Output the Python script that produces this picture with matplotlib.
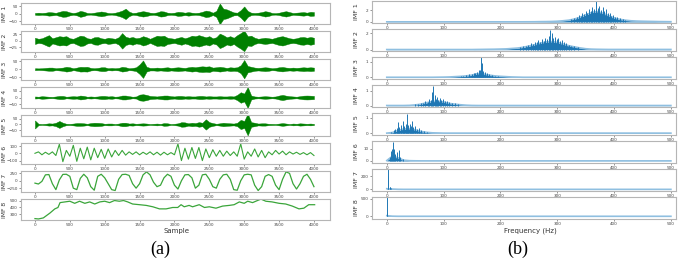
import numpy as np
import matplotlib.pyplot as plt

# ---------------- data ----------------
# (a) time domain, envelope / value every 50 samples from 0 to 4000
samples = np.arange(0, 4001, 50)

imf1_env = [6, 8, 6, 8, 12, 10, 7, 14, 20, 18,
            10, 6, 10, 20, 15, 6, 5, 8, 12, 16,
            12, 6, 5, 8, 14, 22, 35, 15, 6, 8,
            14, 18, 14, 8, 6, 10, 18, 16, 8, 6,
            8, 14, 12, 8, 12, 8, 6, 8, 14, 22,
            18, 8, 20, 70, 35, 30, 20, 10, 8, 25,
            50, 20, 8, 6, 8, 12, 18, 14, 6, 5,
            8, 14, 18, 12, 6, 8, 10, 12, 8, 14, 12]
imf2_env = [12, 8, 10, 16, 22, 10, 14, 18, 16, 18,
            10, 8, 14, 20, 18, 10, 8, 14, 15, 10,
            8, 12, 10, 8, 14, 30, 16, 12, 15, 10,
            12, 18, 14, 8, 14, 20, 18, 20, 12, 10,
            8, 12, 15, 10, 14, 20, 18, 22, 18, 14,
            18, 10, 14, 28, 22, 14, 18, 12, 22, 30,
            40, 18, 20, 12, 8, 10, 12, 10, 8, 12,
            16, 18, 14, 10, 8, 10, 14, 15, 12, 15, 12]
imf3_env = [6, 5, 6, 8, 10, 10, 6, 8, 10, 15,
            12, 6, 10, 15, 14, 15, 8, 6, 8, 12,
            12, 6, 8, 6, 8, 15, 12, 6, 8, 12,
            30, 55, 15, 8, 8, 10, 8, 10, 12, 8,
            10, 12, 10, 8, 12, 15, 12, 16, 18, 16,
            18, 10, 12, 15, 12, 8, 12, 10, 12, 25,
            58, 20, 15, 10, 8, 10, 12, 10, 6, 8,
            12, 14, 10, 8, 10, 8, 10, 12, 10, 12, 10]
imf4_env = [8, 6, 10, 8, 6, 5, 8, 12, 12, 6,
            8, 10, 8, 15, 12, 6, 8, 6, 8, 12,
            12, 8, 10, 6, 8, 15, 15, 10, 6, 8,
            22, 25, 20, 12, 10, 8, 12, 15, 15, 10,
            8, 12, 12, 8, 10, 8, 8, 12, 12, 8,
            10, 8, 8, 10, 8, 8, 10, 8, 20, 40,
            30, 80, 15, 8, 6, 8, 10, 8, 6, 8,
            15, 20, 14, 10, 8, 6, 10, 14, 15, 14, 12]
imf5_env = [35, 6, 4, 6, 10, 8, 15, 30, 15, 6,
            5, 8, 12, 12, 10, 6, 12, 15, 14, 12,
            6, 8, 8, 4, 8, 15, 15, 8, 10, 6,
            8, 10, 8, 4, 6, 8, 5, 12, 10, 4,
            6, 10, 20, 18, 10, 15, 12, 20, 15, 45,
            20, 12, 6, 10, 15, 12, 10, 8, 15, 40,
            30, 95, 20, 15, 8, 10, 10, 6, 5, 4,
            8, 12, 8, 4, 8, 6, 10, 8, 6, 8, 5]
imf6 = [0, 20, -20, 15, -15, 20, -30, 125, -115, 40,
        -40, 110, -110, 70, -75, 85, -90, 70, -60, 55,
        -70, 60, -50, 40, -30, 40, -25, 20, -15, 20,
        -20, 15, -15, 20, -20, 15, -25, 15, -20, 10,
        -20, 130, -100, 70, -80, 80, -70, 80, -100, 60,
        -60, 50, -40, 40, -40, 30, -30, 20, -40, 130,
        -80, 20, -40, 60, -50, 40, -60, 20, -20, 40,
        -10, 30, -20, 20, -10, 15, -15, 10, -20, 10, -30]
imf7 = [-80, -110, -20, 200, 210, -100, -300, 30, 215, 220,
        150, -250, -300, 80, 220, 100, -200, -320, 150, 220,
        100, -100, -300, -330, 50, 210, 220, 180, -100, -250,
        -100, 200, 300, 200, -50, -200, -150, 100, 220, 150,
        -150, -280, 0, 200, 210, 100, -250, -150, 200, 220,
        50, -200, -250, 50, 200, 220, 50, -300, -320, 0,
        200, 220, 200, -150, -330, -200, 150, 210, 150, -150,
        -300, 50, 300, 250, -100, -280, -100, 150, 220, 50, -200]
imf8_x = [0, 50, 120, 215, 285, 330, 360, 430, 500, 570,
          640, 715, 785, 857, 930, 1000, 1070, 1140, 1210, 1270,
          1330, 1400, 1500, 1595, 1690, 1785, 1880, 1975, 2047, 2095,
          2140, 2210, 2260, 2355, 2430, 2500, 2595, 2690, 2785, 2855,
          2930, 3000, 3050, 3120, 3190, 3240, 3310, 3400, 3500, 3595,
          3690, 3785, 3855, 3925, 4010]
imf8 = [240, 235, 250, 320, 380, 400, 470, 480, 490, 460,
        490, 460, 480, 450, 480, 490, 470, 500, 490, 500,
        480, 450, 440, 430, 410, 380, 380, 400, 400, 440,
        410, 430, 410, 440, 400, 410, 390, 420, 430, 440,
        480, 460, 490, 470, 500, 520, 490, 480, 460, 450,
        420, 380, 390, 440, 440]

left_env = [imf1_env, imf2_env, imf3_env, imf4_env, imf5_env]
left_ylims = [(-68, 73), (-43, 38), (-68, 64), (-80, 80), (-100, 82),
              (-147, 142), (-380, 330), (220, 522)]
left_yticks = [[-50, 0, 50], [-25, 0, 25], [-50, 0, 50], [-50, 0, 50],
               [-50, 0, 50], [-100, 0, 100], [-250, 0, 250], [300, 400, 500]]

# (b) spectra, envelope every 10 Hz from 0 to 500 plus the spiky top
freqs = np.arange(0, 501, 10)

spec1 = [0.02, 0.02, 0.02, 0.02, 0.02, 0.02, 0.02, 0.02, 0.02, 0.02,
         0.02, 0.02, 0.02, 0.02, 0.02, 0.02, 0.02, 0.02, 0.02, 0.02,
         0.02, 0.02, 0.02, 0.02, 0.02, 0.025, 0.03, 0.05, 0.06, 0.08,
         0.12, 0.2, 0.3, 0.5, 0.8, 1.2, 1.6, 1.8, 1.5, 1.1,
         0.7, 0.45, 0.3, 0.2, 0.15, 0.12, 0.1, 0.08, 0.06, 0.05, 0.04]
spec2 = [0.02, 0.02, 0.02, 0.02, 0.02, 0.02, 0.02, 0.02, 0.02, 0.02,
         0.02, 0.02, 0.02, 0.02, 0.02, 0.02, 0.03, 0.04, 0.05, 0.06,
         0.08, 0.1, 0.15, 0.2, 0.3, 0.45, 0.6, 0.8, 0.95, 1.0,
         0.9, 0.7, 0.5, 0.35, 0.22, 0.12, 0.07, 0.05, 0.04, 0.03,
         0.03, 0.03, 0.03, 0.03, 0.03, 0.03, 0.03, 0.03, 0.03, 0.03, 0.03]
spec3 = [0.01, 0.01, 0.01, 0.01, 0.01, 0.01, 0.01, 0.01, 0.01, 0.015,
         0.02, 0.03, 0.05, 0.07, 0.1, 0.15, 0.25, 0.22, 0.15, 0.1,
         0.07, 0.05, 0.03, 0.02, 0.01, 0.01, 0.01, 0.01, 0.01, 0.01,
         0.01, 0.01, 0.01, 0.01, 0.01, 0.01, 0.01, 0.01, 0.01, 0.01,
         0.01, 0.01, 0.01, 0.01, 0.01, 0.01, 0.01, 0.01, 0.01, 0.01, 0.01]
spec4 = [0.01, 0.01, 0.01, 0.01, 0.02, 0.05, 0.1, 0.2, 0.28, 0.3,
         0.25, 0.15, 0.1, 0.06, 0.03, 0.015, 0.01, 0.01, 0.01, 0.01,
         0.01, 0.01, 0.01, 0.01, 0.01, 0.01, 0.01, 0.01, 0.01, 0.01,
         0.01, 0.01, 0.01, 0.01, 0.01, 0.01, 0.01, 0.01, 0.01, 0.01,
         0.01, 0.01, 0.01, 0.01, 0.01, 0.01, 0.01, 0.01, 0.01, 0.01, 0.01]
spec5 = [0.01, 0.05, 0.18, 0.28, 0.3, 0.22, 0.12, 0.06, 0.03, 0.02,
         0.01, 0.01, 0.01, 0.01, 0.01, 0.01, 0.01, 0.01, 0.01, 0.01,
         0.01, 0.01, 0.01, 0.01, 0.01, 0.01, 0.01, 0.01, 0.01, 0.01,
         0.01, 0.01, 0.01, 0.01, 0.01, 0.01, 0.01, 0.01, 0.01, 0.01,
         0.01, 0.01, 0.01, 0.01, 0.01, 0.01, 0.01, 0.01, 0.01, 0.01, 0.01]
spec6 = [0.3, 4, 2.5, 0.6, 0.2, 0.1, 0.05, 0.05, 0.05, 0.05,
         0.05, 0.05, 0.05, 0.05, 0.05, 0.05, 0.05, 0.05, 0.05, 0.05,
         0.05, 0.05, 0.05, 0.05, 0.05, 0.05, 0.05, 0.05, 0.05, 0.05,
         0.05, 0.05, 0.05, 0.05, 0.05, 0.05, 0.05, 0.05, 0.05, 0.05,
         0.05, 0.05, 0.05, 0.05, 0.05, 0.05, 0.05, 0.05, 0.05, 0.05, 0.05]
spec7 = [10, 5, 1.5, 0.5, 0.5, 0.5, 0.5, 0.5, 0.5, 0.5,
         0.5, 0.5, 0.5, 0.5, 0.5, 0.5, 0.5, 0.5, 0.5, 0.5,
         0.5, 0.5, 0.5, 0.5, 0.5, 0.5, 0.5, 0.5, 0.5, 0.5,
         0.5, 0.5, 0.5, 0.5, 0.5, 0.5, 0.5, 0.5, 0.5, 0.5,
         0.5, 0.5, 0.5, 0.5, 0.5, 0.5, 0.5, 0.5, 0.5, 0.5, 0.5]
spec8 = [20, 5, 2, 2, 2, 2, 2, 2, 2, 2,
         2, 2, 2, 2, 2, 2, 2, 2, 2, 2,
         2, 2, 2, 2, 2, 2, 2, 2, 2, 2,
         2, 2, 2, 2, 2, 2, 2, 2, 2, 2,
         2, 2, 2, 2, 2, 2, 2, 2, 2, 2, 2]

spike_f = [
    [325, 330, 334, 338, 341, 344, 347, 350, 353, 356, 359, 362, 365, 368, 371,
     374, 377, 380, 383, 386, 389, 392, 395, 398, 402, 406, 410, 415, 420],
    [235, 240, 245, 249, 253, 257, 261, 264, 267, 270, 273, 276, 279, 282, 285,
     288, 290, 293, 296, 299, 302, 305, 308, 312, 316, 320, 325, 330, 336],
    [130, 135, 140, 145, 150, 153, 156, 159, 162, 164, 166, 168, 170, 173, 176,
     180, 185, 190, 196],
    [50, 55, 60, 64, 68, 72, 75, 78, 80, 82, 84, 86, 88, 90, 93, 96, 99, 102,
     106, 110, 115, 120, 126],
    [5, 8, 12, 15, 18, 20, 22, 25, 28, 30, 33, 35, 37, 40, 42, 44, 47, 50, 53,
     56, 60, 65, 70],
    [5, 7, 9, 11, 13, 15, 18, 21, 24, 28],
    [2, 3, 5, 6, 8],
    [0.5, 1],
]
spike_h = [
    [0.5, 0.7, 0.9, 1.2, 1.0, 1.5, 1.3, 1.9, 1.6, 2.2, 1.8, 2.6, 2.2, 3.6, 2.4,
     2.8, 2.0, 2.5, 1.8, 2.2, 1.5, 1.6, 1.1, 1.2, 0.9, 0.8, 0.6, 0.5, 0.4],
    [0.3, 0.4, 0.5, 0.6, 0.8, 0.7, 1.0, 0.9, 1.2, 1.0, 1.3, 1.1, 1.5, 1.3, 1.7,
     2.4, 2.0, 1.5, 1.6, 1.3, 1.4, 1.1, 1.2, 0.9, 0.8, 0.6, 0.5, 0.4, 0.3],
    [0.08, 0.12, 0.15, 0.2, 0.22, 0.3, 0.28, 0.38, 0.5, 0.45, 1.3, 0.9, 0.4,
     0.35, 0.3, 0.22, 0.18, 0.12, 0.08],
    [0.08, 0.12, 0.15, 0.2, 0.3, 0.25, 0.45, 0.35, 0.9, 1.35, 0.7, 0.45, 0.6,
     0.4, 0.5, 0.35, 0.45, 0.3, 0.3, 0.25, 0.2, 0.15, 0.1],
    [0.05, 0.1, 0.2, 0.25, 0.35, 0.7, 0.4, 0.5, 0.8, 0.45, 0.6, 1.25, 0.55,
     0.6, 0.45, 0.8, 0.4, 0.45, 0.3, 0.35, 0.2, 0.15, 0.1],
    [3, 8, 10, 15.5, 10, 6, 7, 9, 3, 2],
    [200, 310, 30, 40, 20],
    [560, 100],
]
specs = [spec1, spec2, spec3, spec4, spec5, spec6, spec7, spec8]
right_ylims = [(-0.18, 3.6), (-0.16, 2.55), (-0.1, 1.31), (-0.09, 1.39),
               (-0.11, 1.3), (-1.7, 16.4), (-24, 305), (-74, 545)]
right_yticks = [[0, 2], [0, 2], [0, 1], [0, 1], [0, 1], [0, 10], [0, 200], [0, 500]]

names = ["IMF 1", "IMF 2", "IMF 3", "IMF 4", "IMF 5", "IMF 6", "IMF 7", "IMF 8"]

# ---------------- figure ----------------
W, H = 685, 259
fig = plt.figure(figsize=(W / 100, H / 100), dpi=100)

dark_green = "#008000"
light_green = "#3aa53a"
blue = "#1f77b4"
light_blue = "#8fbfe0"


def style(ax):
    for s in ax.spines.values():
        s.set_color("#b5b5b5")
        s.set_linewidth(0.8)
    ax.tick_params(labelsize=3, length=1.5, width=0.4, pad=1,
                   colors="#444444")


def px_axes(left, top, right, height):
    return fig.add_axes([left / W, 1 - (top + height) / H,
                         (right - left) / W, height / H])


# left panel: the IMFs in time
for i in range(8):
    ax = px_axes(21, 3 + 28 * i, 330, 21)
    if i < 5:
        env = np.array(left_env[i])
        ax.fill_between(samples, -env, env, color=dark_green, lw=0.3)
    elif i == 5:
        ax.plot(samples, imf6, color=light_green, lw=0.8)
    elif i == 6:
        ax.plot(samples, imf7, color=light_green, lw=0.9)
    else:
        ax.plot(imf8_x, imf8, color=light_green, lw=0.9)
    ax.set_xlim(-200, 4230)
    ax.set_ylim(*left_ylims[i])
    ax.set_yticks(left_yticks[i])
    ax.set_xticks(np.arange(0, 4001, 500))
    style(ax)
    fig.text(4.5 / W, 1 - (3 + 28 * i + 10.5) / H, names[i], rotation=90,
             ha="center", va="center", fontsize=4.3, color="#333333")

# right panel: their spectra
for i in range(8):
    ax = px_axes(372, 1 + 28 * i, 676, 22)
    ax.fill_between(freqs, 0, specs[i], color=blue, lw=0)
    ax.plot(freqs, specs[i], color=light_blue, lw=1.2)
    ax.vlines(spike_f[i], 0, spike_h[i], color=blue, lw=0.7)
    ax.set_xlim(-26, 509)
    ax.set_ylim(*right_ylims[i])
    ax.set_yticks(right_yticks[i])
    ax.set_xticks(np.arange(0, 501, 100))
    style(ax)
    fig.text(357 / W, 1 - (1 + 28 * i + 11) / H, names[i], rotation=90,
             ha="center", va="center", fontsize=4.5, color="#333333")

fig.text(176 / W, 1 - 231 / H, "Sample", ha="center", va="center",
         fontsize=5, color="#333333")
fig.text(530 / W, 1 - 231 / H, "Frequency (Hz)", ha="center", va="center",
         fontsize=5, color="#333333")
fig.text(160 / W, 1 - 249 / H, "(a)", ha="center", va="center",
         fontsize=13, family="Liberation Serif")
fig.text(518 / W, 1 - 249 / H, "(b)", ha="center", va="center",
         fontsize=13, family="Liberation Serif")

fig.savefig("out.png", dpi=100)
